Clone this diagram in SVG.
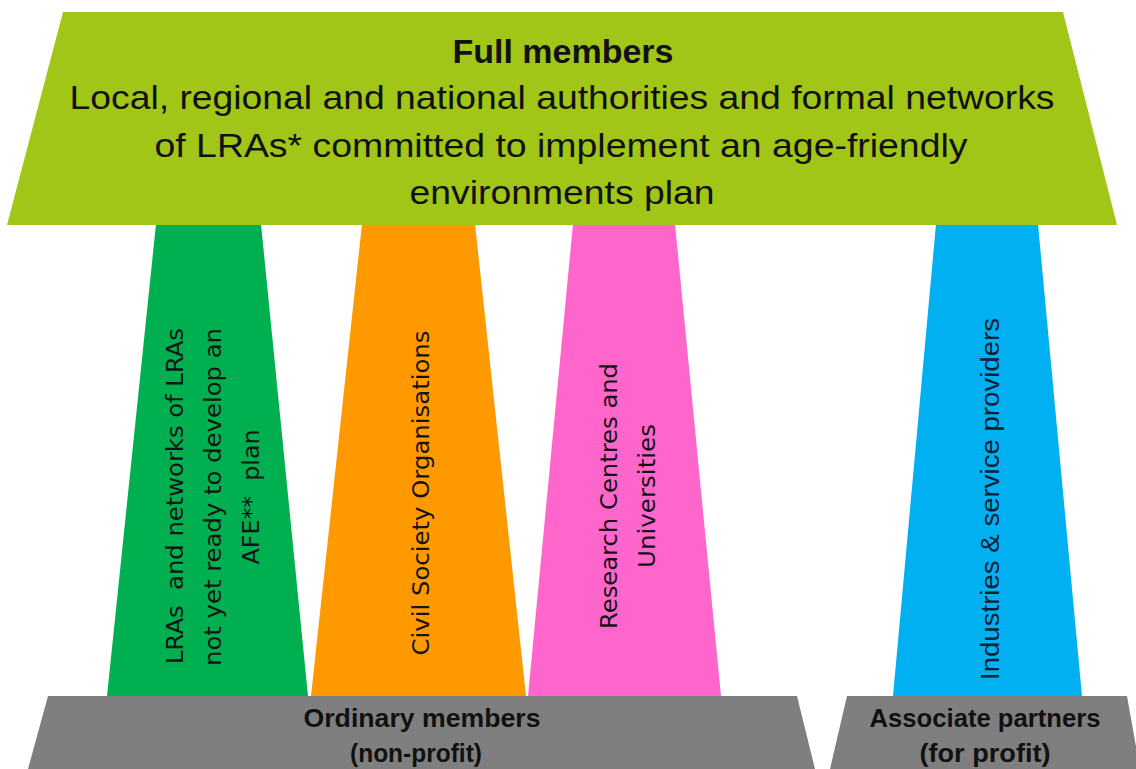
<svg xmlns="http://www.w3.org/2000/svg" width="1136" height="769" viewBox="0 0 1136 769">
<style>
.top{font-family:"Liberation Sans",Arial,sans-serif;font-size:34px;fill:#111;text-anchor:middle}
.topb{font-weight:bold}
.pil{font-family:"DejaVu Sans",Verdana,sans-serif;font-size:23px;fill:#151515;text-anchor:middle}
.pilc{font-family:"Liberation Sans",Arial,sans-serif;font-size:25px;fill:#0f2238;text-anchor:middle}
.base{font-family:"Liberation Sans",Arial,sans-serif;font-size:26px;font-weight:bold;fill:#111;text-anchor:middle}
</style>
<rect width="1136" height="769" fill="#ffffff"/>
<g id="connectors"/>
<g id="pillar-lras">
<polygon points="156,224 261,224 308,696 107,696" fill="#00B050"/>
<text class="pil" transform="translate(183,496) rotate(-90)" textLength="336" lengthAdjust="spacingAndGlyphs" xml:space="preserve">LRAs  and networks of LRAs</text>
<text class="pil" transform="translate(221,497) rotate(-90)" textLength="338" lengthAdjust="spacingAndGlyphs">not yet ready to develop an</text>
<text class="pil" transform="translate(259,497) rotate(-90)" textLength="135" lengthAdjust="spacingAndGlyphs" xml:space="preserve">AFE**  plan</text>
</g>
<g id="pillar-cso">
<polygon points="362,224 475,224 526,696 311,696" fill="#FF9900"/>
<text class="pil" transform="translate(429,493) rotate(-90)" textLength="325" lengthAdjust="spacingAndGlyphs">Civil Society Organisations</text>
</g>
<g id="pillar-research">
<polygon points="573,224 675,224 721,696 528,696" fill="#FF66CC"/>
<text class="pil" transform="translate(617,496) rotate(-90)" textLength="266" lengthAdjust="spacingAndGlyphs">Research Centres and</text>
<text class="pil" transform="translate(655,496) rotate(-90)" textLength="144" lengthAdjust="spacingAndGlyphs">Universities</text>
</g>
<g id="pillar-industries">
<polygon points="936,224 1038,224 1082,696 893,696" fill="#00B0F0"/>
<text class="pilc" transform="translate(999,499) rotate(-90)" textLength="362" lengthAdjust="spacingAndGlyphs">Industries &amp; service providers</text>
</g>
<g id="full-members">
<polygon points="63,12 1063,12 1117,225 7,225" fill="#A2C617"/>
<text class="top topb" x="563" y="63" textLength="221" lengthAdjust="spacingAndGlyphs">Full members</text>
<text class="top" x="562" y="109" textLength="985" lengthAdjust="spacingAndGlyphs">Local, regional and national authorities and formal networks</text>
<text class="top" x="561" y="157" textLength="813" lengthAdjust="spacingAndGlyphs">of LRAs* committed to implement an age-friendly</text>
<text class="top" x="562" y="204" textLength="305" lengthAdjust="spacingAndGlyphs">environments plan</text>
</g>
<g id="ordinary-members">
<polygon points="48,696 797,696 815,769 28,769" fill="#7F7F7F"/>
<text class="base" x="422" y="727" textLength="237" lengthAdjust="spacingAndGlyphs">Ordinary members</text>
<text class="base" x="416" y="762" textLength="132" lengthAdjust="spacingAndGlyphs">(non-profit)</text>
</g>
<g id="associate-partners">
<polygon points="847,696 1127,696 1140,769 830,769" fill="#7F7F7F"/>
<text class="base" x="985" y="727" textLength="231" lengthAdjust="spacingAndGlyphs">Associate partners</text>
<text class="base" x="985" y="762" textLength="131" lengthAdjust="spacingAndGlyphs">(for profit)</text>
</g>
</svg>
